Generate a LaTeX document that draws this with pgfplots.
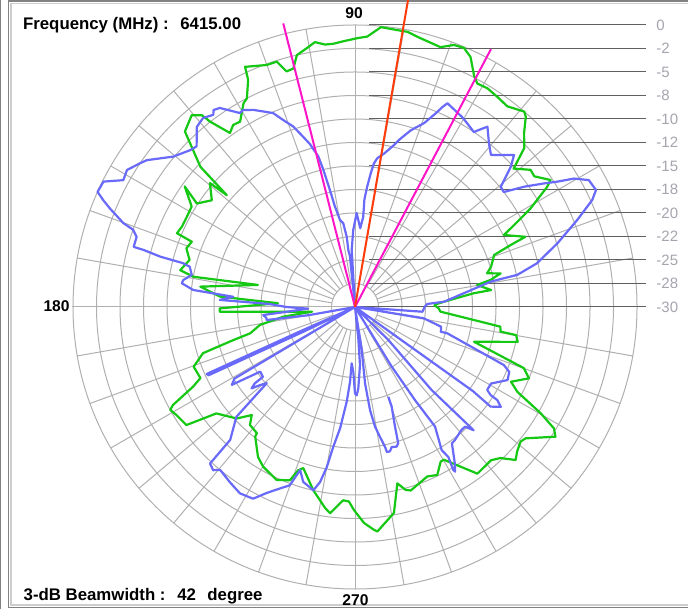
\documentclass[border=0pt]{standalone}
\usepackage{fontspec}
\setmainfont{Liberation Sans}
\usepackage{pgfplots}
\usepackage{pgfplotstable}
\pgfplotsset{compat=1.18}

\definecolor{gridc}{RGB}{176,176,176}
\definecolor{ladder}{RGB}{95,95,95}
\definecolor{lblc}{RGB}{165,165,175}
\definecolor{copol}{RGB}{20,200,20}
\definecolor{xpol}{RGB}{105,105,250}
\definecolor{peakc}{RGB}{255,60,10}
\definecolor{bwc}{RGB}{255,20,200}
\definecolor{frameo}{RGB}{130,130,130}
\definecolor{framei}{RGB}{205,205,205}

% angle (deg), level (dB)
\pgfplotstableread{
a db
1.5 -21.6
3.4 -20.5
6.6 -17.3
7.1 -15.4
10.2 -16.8
11.3 -15.3
13.0 -14.1
14.3 -15.5
16.5 -14.9
20.5 -14.2
21.7 -12.2
22.4 -10.4
25.8 -12.4
27.5 -10.7
29.3 -8.6
32.0 -5.9
33.0 -5.2
36.1 -6.4
38.0 -6.3
41.1 -7.6
43.2 -5.3
45.8 -4.2
48.1 -2.8
49.1 -2.5
52.8 -3.2
55.9 -3.0
58.8 -2.8
61.3 -2.9
62.8 -2.3
65.2 -0.7
67.2 -0.1
69.3 -0.2
71.8 -0.9
74.8 -0.7
77.0 -0.5
79.2 -0.2
81.3 -0.2
84.7 -0.1
87.4 -1.2
89.5 -1.4
92.5 -1.7
94.7 -1.9
96.5 -1.9
98.6 -1.5
100.6 -2.0
103.0 -2.5
104.5 -3.8
106.2 -3.9
107.7 -2.6
110.0 -2.6
114.6 -1.9
115.2 -3.3
117.4 -5.0
118.7 -5.3
121.8 -6.8
123.8 -6.7
125.7 -7.2
128.0 -5.0
128.6 -3.9
130.4 -3.2
134.1 -4.0
137.8 -7.8
138.9 -11.9
139.5 -9.7
143.3 -11.0
146.8 -9.9
144.7 -7.8
148.4 -9.6
151.8 -9.7
155.1 -9.7
157.5 -9.5
158.2 -11.3
160.8 -11.0
164.1 -11.7
168.1 -11.0
169.4 -12.5
167.2 -19.4
172.5 -13.4
175.6 -15.6
177.2 -21.8
180.6 -15.6
182.0 -15.6
186.2 -25.4
187.7 -22.3
190.7 -19.7
194.1 -18.5
195.2 -16.6
196.9 -13.1
200.3 -11.7
202.2 -11.8
204.7 -11.9
206.2 -10.8
208.3 -8.0
209.1 -7.5
211.2 -7.8
215.0 -8.1
217.5 -11.4
223.3 -12.7
226.3 -14.1
228.3 -13.2
232.1 -13.0
232.4 -12.6
237.1 -11.0
240.1 -10.4
245.6 -9.8
249.4 -10.3
250.8 -11.6
252.2 -12.0
257.2 -10.0
261.5 -8.4
263.1 -7.9
266.5 -9.4
268.2 -9.3
269.7 -8.4
272.4 -7.0
274.9 -6.2
275.7 -6.0
280.7 -7.7
283.5 -10.7
285.5 -9.8
286.9 -9.6
293.1 -10.4
296.1 -10.1
299.0 -11.2
300.2 -11.2
306.3 -8.0
311.6 -8.2
313.9 -7.7
316.4 -6.4
318.3 -6.9
320.9 -7.3
322.4 -7.1
327.1 -4.6
328.6 -5.2
330.2 -7.2
332.4 -10.5
334.4 -11.6
337.7 -10.0
340.1 -10.9
343.7 -16.8
347.9 -12.3
350.1 -12.6
350.4 -14.3
352.3 -14.4
356.9 -20.9
359.1 -21.1
361.5 -21.6
}\copoltab

\pgfplotstableread{
a db
0.0 -22.6
2.4 -22.3
3.4 -20.5
10.6 -15.3
11.2 -12.4
13.5 -10.1
17.5 -7.4
21.4 -4.6
24.3 -2.3
25.9 -1.5
28.5 -1.7
30.4 -3.0
31.8 -4.7
33.2 -6.0
35.4 -7.9
37.7 -10.0
39.5 -9.9
42.0 -7.7
43.7 -6.6
48.2 -8.3
50.7 -7.5
53.7 -6.2
55.0 -7.0
55.8 -7.5
58.6 -7.1
60.6 -6.8
63.3 -6.5
65.6 -6.2
66.4 -6.8
67.4 -7.7
69.4 -9.1
70.9 -9.7
72.5 -10.3
75.2 -11.6
76.5 -12.3
79.3 -13.4
81.5 -14.0
82.5 -14.6
83.3 -15.7
84.2 -17.1
85.0 -18.5
84.8 -20.4
86.2 -21.6
89.0 -20.0
91.3 -21.8
93.3 -23.9
94.0 -30.0
95.7 -24.6
96.7 -23.9
96.7 -22.5
98.0 -21.0
99.8 -20.6
101.3 -19.1
102.1 -17.3
103.0 -15.0
103.7 -13.5
105.5 -12.0
106.9 -11.1
108.9 -9.7
111.0 -8.7
112.9 -7.6
117.3 -6.4
119.6 -5.9
120.7 -6.0
124.2 -4.4
125.7 -4.2
126.4 -4.6
128.8 -4.2
131.3 -4.5
134.6 -6.0
136.4 -5.8
140.4 -4.9
144.8 -2.9
146.2 -2.5
149.0 -1.7
151.3 -1.9
153.5 -0.1
155.9 0.0
157.0 -0.9
158.1 -1.9
160.1 -3.8
160.8 -5.0
162.2 -5.6
164.8 -5.6
164.9 -6.7
165.5 -8.6
165.7 -11.1
166.3 -11.9
168.9 -12.3
171.1 -11.5
172.2 -11.4
174.0 -12.7
175.2 -17.0
177.0 -15.6
178.0 -20.9
180.0 -22.7
182.0 -25.0
184.0 -22.7
185.0 -20.2
187.0 -20.5
188.4 -20.5
190.0 -25.0
192.0 -30.0
203.9 -24.0
204.3 -12.7
205.0 -12.8
205.6 -24.0
207.0 -30.0
210.7 -15.1
212.3 -14.5
214.3 -17.8
217.2 -17.7
217.3 -16.6
218.2 -16.0
219.4 -16.9
220.8 -17.6
222.8 -12.8
226.8 -10.6
227.2 -7.3
229.0 -7.0
230.4 -7.5
234.4 -7.1
238.3 -6.7
242.0 -6.9
244.6 -8.1
247.5 -9.1
249.9 -9.8
251.4 -11.7
253.5 -10.6
257.2 -10.0
258.7 -11.0
260.0 -12.7
261.2 -15.0
263.0 -17.0
265.0 -19.9
266.2 -22.0
266.6 -24.0
268.5 -23.1
270.0 -20.8
271.1 -20.6
272.3 -21.3
274.9 -23.8
276.0 -26.6
277.0 -30.0
278.9 -25.4
277.5 -21.8
278.3 -18.9
279.5 -17.1
280.9 -15.9
282.1 -14.8
282.4 -14.2
283.6 -14.2
284.7 -14.6
286.6 -14.5
287.6 -14.8
288.5 -16.6
290.2 -18.7
290.4 -19.8
}\xpoltabA

\pgfplotstableread{
a db
300.0 -30.0
301.6 -22.6
302.8 -18.2
303.8 -14.7
301.2 -12.2
301.9 -11.2
301.1 -9.8
301.3 -9.5
302.6 -10.3
305.4 -12.2
306.9 -12.3
310.9 -12.7
312.6 -12.7
313.9 -11.8
313.8 -12.6
312.7 -18.0
315.3 -25.0
318.0 -30.0
324.5 -20.5
324.5 -14.6
323.7 -12.1
325.6 -11.2
326.8 -11.9
327.0 -12.8
327.9 -13.4
330.6 -13.4
332.9 -12.6
334.4 -12.0
337.2 -12.2
338.7 -13.0
344.1 -19.8
343.9 -20.5
347.1 -20.6
350.7 -22.6
353.0 -30.0
356.0 -22.8
360.0 -22.6
}\xpoltabB

\begin{document}
\begin{tikzpicture}
\begin{axis}[
  scale only axis,
  width=344pt, height=304.5pt,
  xmin=-355, xmax=333, ymin=-302, ymax=307,
  hide axis,
  clip=true,
]
% background and frame (1 unit = 1 px, origin at the pole)
\fill[white] (axis cs:-355,-302) rectangle (axis cs:333,307);
\draw[frameo, line width=0.5pt] (axis cs:-354.5,-302) -- (axis cs:-354.5,307);
\draw[frameo, line width=0.6pt] (axis cs:-346.5,-300.5) rectangle (axis cs:345,306);
\draw[framei, line width=0.6pt] (axis cs:-344,-298) rectangle (axis cs:345,303.5);

% polar grid
\pgfplotsinvokeforeach{1,...,12}{
  \draw[gridc, line width=0.5pt] (axis cs:0,0) circle[radius={23.5*#1}];
}
\pgfplotsinvokeforeach{10,20,30,40,50,60,70,80,100,110,120,130,140,150,160,170,190,200,210,220,230,240,250,260,280,290,300,310,320,330,340,350}{
  \draw[gridc, line width=0.5pt] (axis cs:{23.5*cos(#1)},{23.5*sin(#1)}) -- (axis cs:{282*cos(#1)},{282*sin(#1)});
}
\draw[gridc, line width=0.5pt] (axis cs:-283,0) -- (axis cs:282,0);
\draw[gridc, line width=0.5pt] (axis cs:0,-282) -- (axis cs:0,282);

% dB ladder on the right
\pgfplotsinvokeforeach{1,...,12}{
  \draw[ladder, line width=0.5pt] (axis cs:14,{23.5*#1}) -- (axis cs:291,{23.5*#1});
}
\draw[ladder, line width=0.5pt] (axis cs:0,0) -- (axis cs:291,0);

% patterns
\addplot[copol, line width=1.1pt, line join=round, data cs=polar]
  table[x=a, y expr={(\thisrow{db}+30)*9.4}] {\copoltab};
\addplot[xpol, line width=1.1pt, line join=round, data cs=polar]
  table[x=a, y expr={(\thisrow{db}+30)*9.4}] {\xpoltabA};
\addplot[xpol, line width=1.1pt, line join=round, data cs=polar]
  table[x=a, y expr={(\thisrow{db}+30)*9.4}] {\xpoltabB};

% beamwidth and peak lines (angle, radius in px)
\addplot[bwc, line width=1pt, data cs=polar] coordinates {(62.2,0) (62.2,291.5)};
\addplot[bwc, line width=1pt, data cs=polar] coordinates {(104.2,0) (104.2,292.5)};
\addplot[peakc, line width=1pt, data cs=polar] coordinates {(80.2,0) (80.2,330)};

% scale labels
\begin{scope}[every node/.style={anchor=west, inner sep=0pt, text=lblc, font=\fontsize{7.5}{9}\selectfont}]
\node at (axis cs:301,282) {0};
\node at (axis cs:301,258.5) {-2};
\node at (axis cs:301,235) {-5};
\node at (axis cs:301,211.5) {-8};
\node at (axis cs:301,188) {-10};
\node at (axis cs:301,164.5) {-12};
\node at (axis cs:301,141) {-15};
\node at (axis cs:301,117.5) {-18};
\node at (axis cs:301,94) {-20};
\node at (axis cs:301,70.5) {-22};
\node at (axis cs:301,47) {-25};
\node at (axis cs:301,23.5) {-28};
\node at (axis cs:301,0) {-30};
\end{scope}

% angle labels
\begin{scope}[every node/.style={inner sep=0pt, font=\fontsize{7.8}{9}\selectfont\bfseries}]
\node[anchor=base] at (axis cs:-1,288.5) {90};
\node[anchor=base east] at (axis cs:-285,-4.7) {180};
\node[anchor=base] at (axis cs:0.5,-298) {270};
\end{scope}

% header and footer text
\begin{scope}[every node/.style={inner sep=0pt, anchor=base west, font=\fontsize{8.4}{10}\selectfont\bfseries}]
\node at (axis cs:-332.3,277) {Frequency (MHz) :};
\node at (axis cs:-175,277) {6415.00};
\node at (axis cs:-331.7,-293) {3-dB Beamwidth :};
\node at (axis cs:-178,-293) {42};
\node at (axis cs:-148,-293) {degree};
\end{scope}
\end{axis}
\end{tikzpicture}
\end{document}
